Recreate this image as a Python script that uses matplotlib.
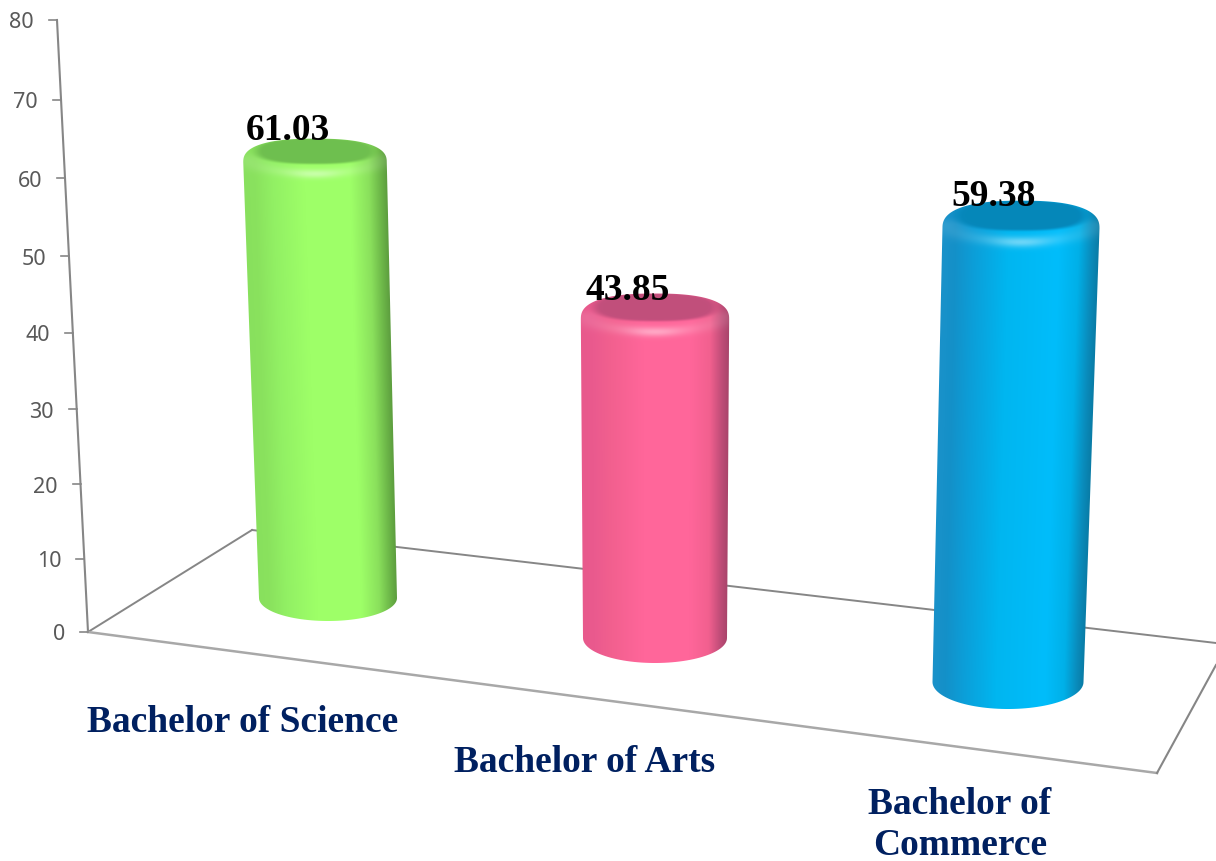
import numpy as np
import matplotlib
matplotlib.use("Agg")
import matplotlib.pyplot as plt
from matplotlib.path import Path
from matplotlib.patches import PathPatch
from matplotlib.colors import to_rgb

# ---- data
categories = ["Bachelor of Science", "Bachelor of Arts", "Bachelor of\nCommerce"]
values = [61.03, 43.85, 59.38]
y_ticks = [0, 10, 20, 30, 40, 50, 60, 70, 80]

# ---- perspective layout (pixel space of the picture)
base_cx = [328, 655, 1008]
base_cy = [598, 638, 682]
base_rx = [69, 72, 75.5]
base_ry = [23, 25, 27]
depth_k = [0.944, 0.971, 1.011]
lean = [-0.0298, 0.0, 0.0286]
top_grow = [1.04, 1.03, 1.04]
label_pos = [(243, 722), (585, 763), (960, 825)]
value_pos = [(288, 131), (628, 291), (994, 196)]
stops = [0, .08, .20, .42, .74, .87, .95, 1]
body_cols = [
    ["#88e05e", "#8ae25e", "#92f064", "#9eff68", "#9eff68", "#8ae05c", "#6cb648", "#5c9c3e"],
    ["#e8598c", "#ea5a8e", "#f2608f", "#ff669a", "#ff669a", "#f2608f", "#c04d78", "#a8446a"],
    ["#1a92ca", "#1490c8", "#0c9ed8", "#00b6f0", "#00bdfb", "#00b0e8", "#0a8cbc", "#0a7ba5"],
]
cap_cols = ["#6fbf4f", "#c24f7c", "#0687ba"]
AXIS = "#868686"


def proj(v):
    """value -> pixels above the floor, with the chart's vertical perspective"""
    return 7.308 * np.asarray(v, float) / (1 - 0.000559 * np.asarray(v, float))


fig = plt.figure(figsize=(12.16, 8.61), dpi=100)
ax = fig.add_axes([0, 0, 1, 1])
ax.set_xlim(0, 1216)
ax.set_ylim(861, 0)
ax.axis("off")

# ---- floor and wall lines
y0, x0 = 632, 88
x80 = 57
ytop = y0 - proj(80)
ax.plot([x0, x80], [y0, ytop], color=AXIS, lw=1.5, zorder=1)
ax.plot([x0, 252], [y0, 530], color=AXIS, lw=1.4, zorder=1)
ax.plot([252, 1216], [530, 643], color=AXIS, lw=1.4, zorder=1)
ax.plot([x0, 1157], [y0, 773], color="#a8a8a8", lw=1.8, zorder=1)
ax.plot([1157, 1216], [773, 665], color=AXIS, lw=1.5, zorder=1)
for t in y_ticks:
    y = y0 - proj(t)
    x = x0 + (x80 - x0) * (y0 - y) / (y0 - ytop)
    ax.plot([x - 8, x], [y, y], color=AXIS, lw=1.2, zorder=1)
    ax.text(x - 23, y + 3, str(t), ha="right", va="center", fontsize=15.5,
            color="#595959", family="Noto Sans", zorder=2)


def smooth(a, b, x):
    t = np.clip((x - a) / (b - a), 0, 1)
    return t * t * (3 - 2 * t)


# ---- cylinders
for i, v in enumerate(values):
    h = proj(v) * depth_k[i]
    cxb, cyb, rxb, ryb = base_cx[i], base_cy[i], base_rx[i], base_ry[i]
    cxt = cxb + lean[i] * h
    cyt = cyb - h
    rxt = rxb * top_grow[i]
    ryt = ryb * 1.02

    th = np.linspace(np.pi, 2 * np.pi, 80)
    n = 2.5
    cs, sn = np.cos(th), np.sin(th)
    top = np.c_[cxt + rxt * np.sign(cs) * np.abs(cs) ** (2 / n),
                cyt + ryt * np.sign(sn) * np.abs(sn) ** (2 / n)]
    th2 = np.linspace(0, np.pi, 60)
    bot = np.c_[cxb + rxb * np.cos(th2), cyb + ryb * np.sin(th2)]
    pts = np.r_[top, bot, top[:1]]
    outline = Path(pts, closed=True)

    xs = np.arange(np.floor(pts[:, 0].min()) - 1, np.ceil(pts[:, 0].max()) + 2, 0.5)
    ys = np.arange(np.floor(pts[:, 1].min()) - 1, np.ceil(pts[:, 1].max()) + 2, 0.5)
    X, Y = np.meshgrid(xs, ys)
    f = np.clip((Y - cyt) / (cyb - cyt), 0, 1)
    L = (cxt - rxt) + ((cxb - rxb) - (cxt - rxt)) * f
    R = (cxt + rxt) + ((cxb + rxb) - (cxt + rxt)) * f
    U = np.clip((X - L) / (R - L), 0, 1)
    rgb = np.stack([np.interp(U, stops, [to_rgb(c)[k] for c in body_cols[i]])
                    for k in range(3)], axis=-1)

    # bevel: soft bright rim around the front of the lid
    top_y = cyt - ryt
    ry_b = ryt * 0.78
    cy_b = top_y + ry_b
    rho = np.sqrt(((X - cxt) / rxt) ** 2 + ((Y - cy_b) / ry_b) ** 2)
    glow = np.exp(-((rho - 0.96) / 0.24) ** 2) * smooth(-6, 4, Y - cy_b)
    glow_c = 0.10 + 0.32 * np.exp(-((X - cxt) / (0.38 * rxt)) ** 2)
    rgb = rgb + (1 - rgb) * (glow * glow_c)[..., None]

    # darker inset lid with soft edge
    rx_c, ry_c = rxt * 0.84, ryt * 0.56
    cy_c = top_y + ry_c
    rc = (np.abs((X - cxt) / rx_c) ** 2.4 + np.abs((Y - cy_c) / ry_c) ** 2.4) ** (1 / 2.4)
    a = (1 - smooth(0.86, 1.10, rc))[..., None]
    rgb = rgb * (1 - a) + np.array(to_rgb(cap_cols[i])) * a

    im = ax.imshow(np.clip(rgb, 0, 1), extent=(xs[0], xs[-1], ys[-1], ys[0]),
                   aspect="auto", interpolation="bilinear", zorder=3)
    im.set_clip_path(PathPatch(outline, transform=ax.transData))

    ax.text(*value_pos[i], f"{v:.2f}", ha="center", va="center", fontsize=27,
            fontweight="bold", family="Liberation Serif", color="black", zorder=5)

ax.set_xlim(0, 1216)
ax.set_ylim(861, 0)

# ---- category labels
for name, (x, y) in zip(categories, label_pos):
    ax.text(x, y, name, ha="center", va="center", fontsize=27, fontweight="bold",
            family="Liberation Serif", color="#002060", linespacing=1.22, zorder=5)

fig.savefig("out.png", dpi=100)
